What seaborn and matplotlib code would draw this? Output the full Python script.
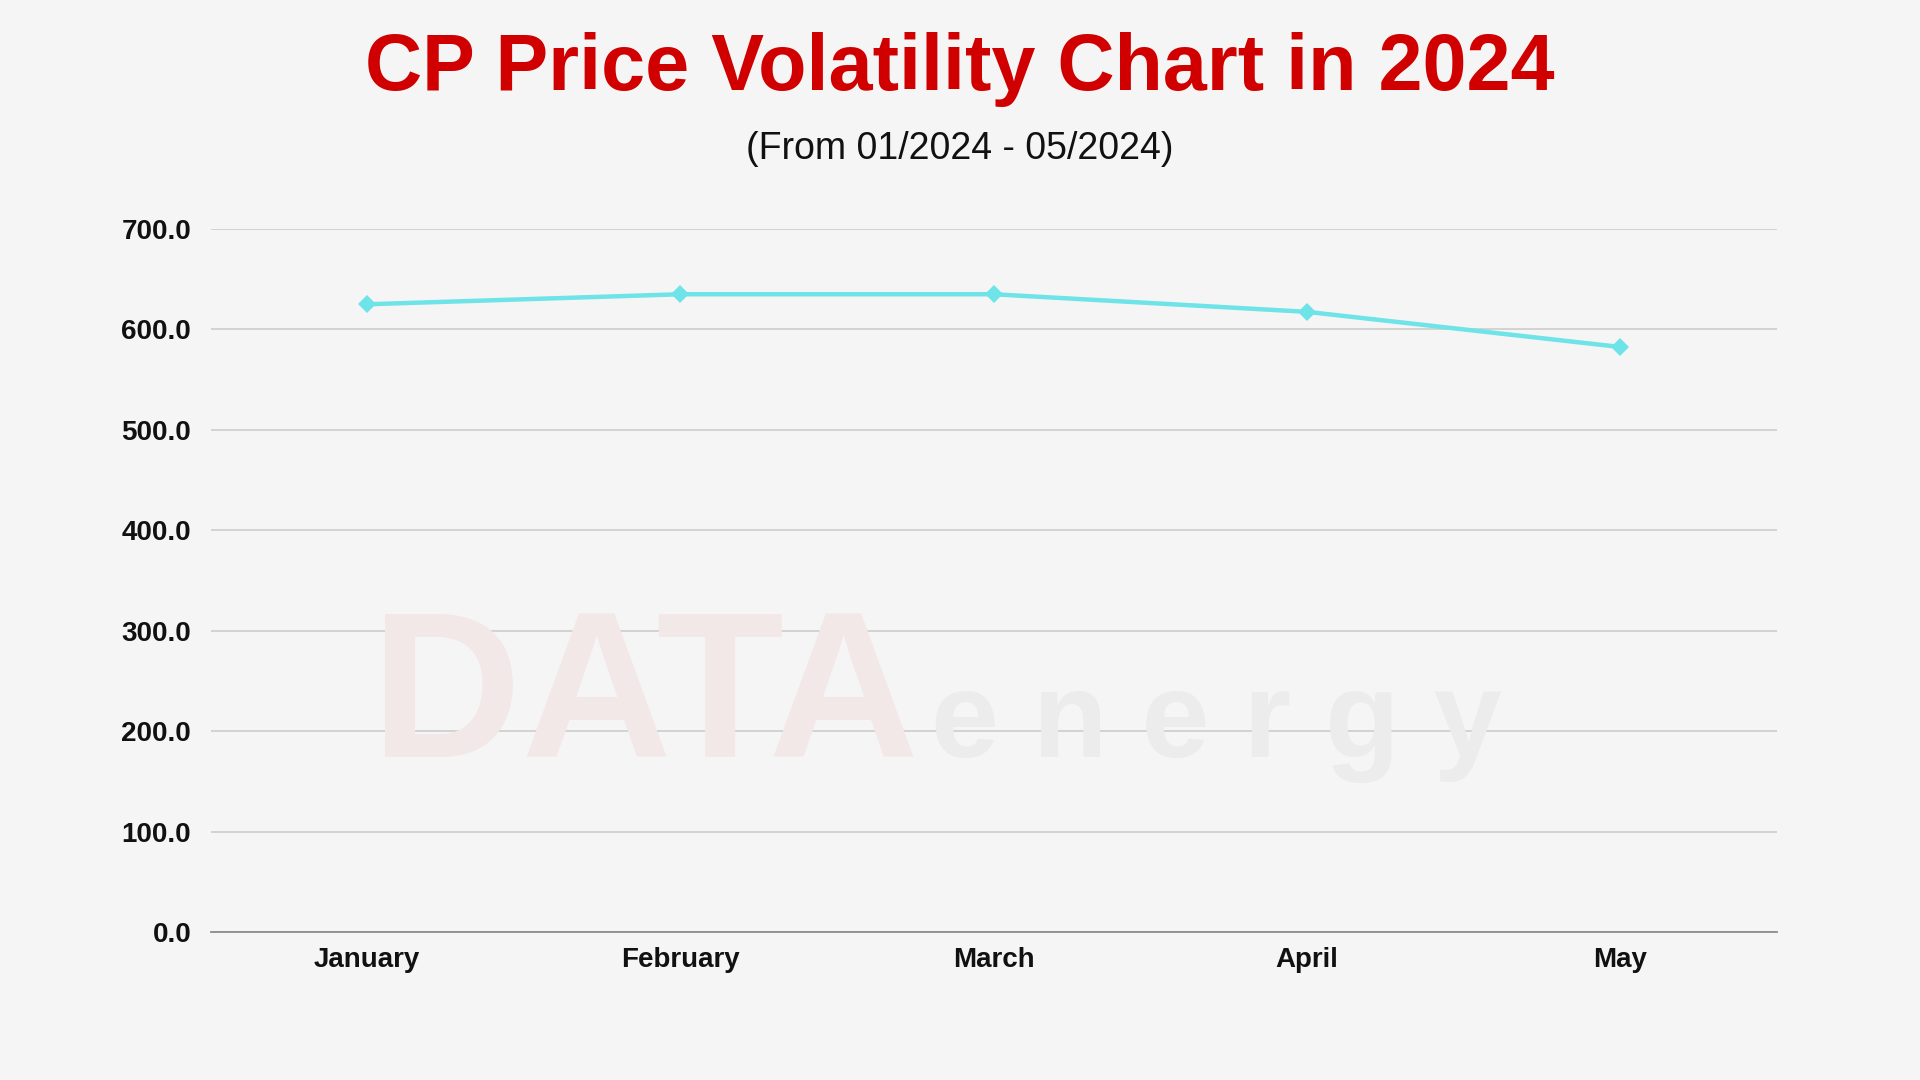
import pandas as pd
import seaborn as sns
import matplotlib.pyplot as plt

# CP price, monthly average (USD/ton)
months = ["January", "February", "March", "April", "May"]
prices = [625.0, 635.0, 635.0, 617.5, 582.5]
yticks = [0, 100, 200, 300, 400, 500, 600, 700]

sns.set_theme(style="white")
plt.rcParams['font.family'] = ['Liberation Sans', 'DejaVu Sans']

bg = "#F5F5F5"
df = pd.DataFrame({"month": months, "price": prices})

fig = plt.figure(figsize=(19.2, 10.8), dpi=100, facecolor=bg)
ax = fig.add_axes([0.1097, 0.137, 0.8157, 0.651])
ax.set_facecolor(bg)

# faint watermark
fig.text(0.193, 0.299, "DATA", fontsize=150, fontweight="bold", color="#F3E8E8",
         ha="left", va="baseline", zorder=0)
fig.text(0.485, 0.299, "e n e r g y", fontsize=88, fontweight="bold", color="#ECECEC",
         ha="left", va="baseline", zorder=0)

sns.lineplot(data=df, x="month", y="price", sort=False, ax=ax, color="#6EE3E8",
             linewidth=3.2, marker="D", markersize=9, markeredgewidth=0, zorder=3)

ax.set_xlim(-0.5, 4.5)
ax.set_ylim(0, 700)
ax.set_yticks(yticks)
ax.set_yticklabels([f"{v:.1f}" for v in yticks])
ax.grid(axis="y", color="#C9C9C9", linewidth=1.1)
ax.grid(axis="x", visible=False)
for s in ["top", "right", "left"]:
    ax.spines[s].set_visible(False)
ax.spines["bottom"].set_color("#8C8C8C")
ax.spines["bottom"].set_linewidth(1.3)
ax.tick_params(axis="y", length=0, pad=14, labelsize=20)
ax.tick_params(axis="x", length=0, pad=11, labelsize=20)
for lab in ax.get_xticklabels() + ax.get_yticklabels():
    lab.set_fontweight("bold")
    lab.set_color("#111111")
ax.set_xlabel("")
ax.set_ylabel("")

fig.text(0.5, 0.936, "CP Price Volatility Chart in 2024", ha="center", va="center",
         fontsize=57, fontweight="bold", color="#D00000")
fig.text(0.5, 0.862, "(From 01/2024 - 05/2024)", ha="center", va="center",
         fontsize=27, color="#111111")

fig.savefig("out.png", dpi=100, facecolor=bg)
